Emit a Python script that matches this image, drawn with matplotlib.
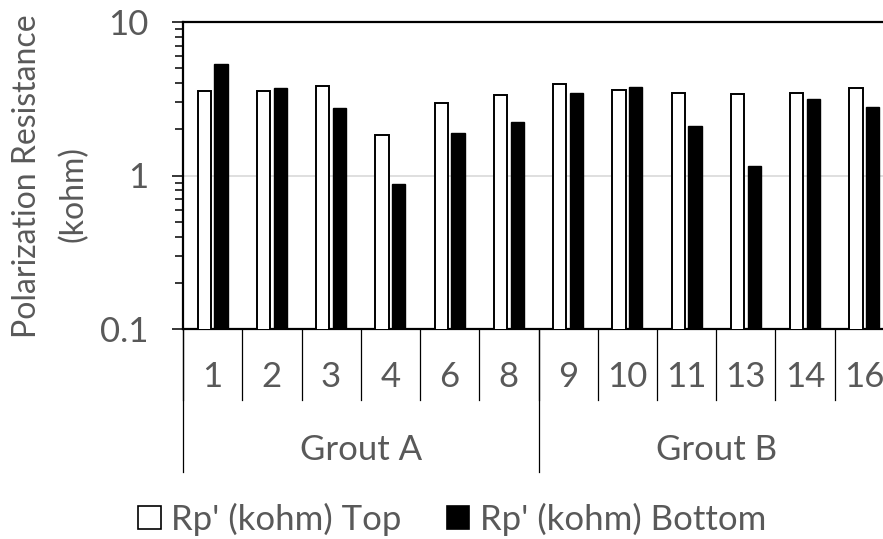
import matplotlib
matplotlib.use("Agg")
import matplotlib.pyplot as plt
from matplotlib.patches import Patch
from matplotlib.ticker import LogLocator, FixedLocator, NullFormatter
import numpy as np

plt.rcParams['font.family'] = ['Lato', 'DejaVu Sans']

# Specimen labels and the grout group each belongs to
specimens = ['1', '2', '3', '4', '6', '8', '9', '10', '11', '13', '14', '16']
groups = ['Grout A', 'Grout B']
group_sizes = [6, 6]

# Polarization resistance (kohm)
rp_top = [3.56, 3.56, 3.83, 1.83, 2.96, 3.37, 3.97, 3.61, 3.45, 3.38, 3.45, 3.70]
rp_bottom = [5.29, 3.69, 2.75, 0.874, 1.89, 2.24, 3.44, 3.78, 2.10, 1.15, 3.14, 2.81]

series_names = ["Rp' (kohm) Top", "Rp' (kohm) Bottom"]

TEXT = '#595959'
FS = 25
W, H = 883, 539
fig = plt.figure(figsize=(W / 100, H / 100), dpi=100)
ax = fig.add_axes([183 / W, 1 - 329 / H, (894 - 183) / W, (329 - 22) / H])

x = np.arange(len(specimens))
bw = 0.225
ax.bar(x - 0.14, rp_top, width=bw, color='white', edgecolor='black',
       linewidth=1.4, zorder=3)
ax.bar(x + 0.14, rp_bottom, width=bw, color='black', edgecolor='black',
       linewidth=1.0, zorder=3)

ax.set_yscale('log')
ax.set_ylim(0.1, 10)
ax.set_xlim(-0.5, len(specimens) - 0.5)

ax.yaxis.set_major_locator(FixedLocator([0.1, 1, 10]))
ax.set_yticklabels(['0.1', '1', '10'])
ax.yaxis.set_minor_locator(LogLocator(base=10, subs=np.arange(2, 10)))
ax.yaxis.set_minor_formatter(NullFormatter())
ax.tick_params(axis='y', which='major', length=8, width=1.1, color='black',
               labelsize=FS, labelcolor=TEXT, pad=17)
ax.tick_params(axis='y', which='minor', length=5.8, width=1.1, color='black')

ax.grid(False)
ax.axhline(1, color='#d9d9d9', linewidth=1.2, zorder=1)

for side in ['left', 'bottom', 'top']:
    ax.spines[side].set_linewidth(1.6)
    ax.spines[side].set_color('black')
ax.spines['right'].set_visible(False)

# Multi-level category axis
ax.set_xticks(x)
ax.set_xticklabels(specimens)
ax.tick_params(axis='x', length=0, labelsize=FS, labelcolor=TEXT, pad=23)

ax_h = (329 - 22)
trans = ax.get_xaxis_transform()
for k in range(len(specimens) + 1):
    ax.plot([k - 0.5, k - 0.5], [0, -71 / ax_h], transform=trans,
            color='black', linewidth=0.9, clip_on=False, zorder=4)
start = 0
for g, n in zip(groups, group_sizes):
    ax.plot([start - 0.5, start - 0.5], [0, -143 / ax_h], transform=trans,
            color='black', linewidth=0.9, clip_on=False, zorder=4)
    ax.text(start + n / 2 - 0.5, -121 / ax_h, g, transform=trans,
            ha='center', va='center', fontsize=FS, color=TEXT)
    start += n
ax.plot([start - 0.5, start - 0.5], [0, -143 / ax_h], transform=trans,
        color='black', linewidth=0.9, clip_on=False, zorder=4)

# Axis title (two lines)
fig.text(27 / W, 1 - 176 / H, 'Polarization Resistance', rotation=90,
         ha='center', va='center', fontsize=23, color=TEXT)
fig.text(73 / W, 1 - 194 / H, '(kohm)', rotation=90,
         ha='center', va='center', fontsize=23, color=TEXT)

handles = [Patch(facecolor='white', edgecolor='black', linewidth=1.2),
           Patch(facecolor='black', edgecolor='black', linewidth=1.2)]
fig.legend(handles, series_names, loc='center', ncol=2,
           bbox_to_anchor=(452 / W, 1 - 519 / H), frameon=False,
           fontsize=FS, labelcolor=TEXT, handlelength=0.65, handleheight=0.65,
           handletextpad=0.3, columnspacing=1.3, borderaxespad=0)

fig.savefig('out.png', dpi=100)
